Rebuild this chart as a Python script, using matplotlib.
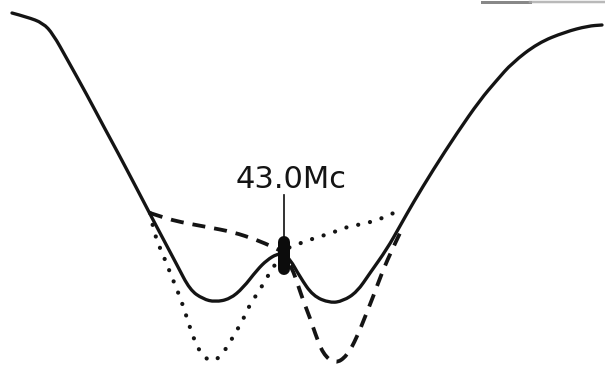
import matplotlib
matplotlib.use("Agg")
import matplotlib.pyplot as plt
from matplotlib.path import Path
from matplotlib.patches import PathPatch

# Response curves (horizontal position, vertical deflection; deflection grows downward)
solid_x = [12, 27, 43, 53, 67, 87, 105, 117, 137, 150, 160, 177, 190, 203, 215, 230,
           243, 257, 267, 277, 283, 290, 300, 313, 330, 343, 357, 370, 387, 400, 413,
           433, 457, 480, 497, 512, 538, 565, 588, 602]
solid_y = [13, 17, 23, 34, 59, 95, 129, 151, 189, 214, 233, 265, 290, 299, 302, 299,
           288, 270, 260, 254, 254, 259, 277, 296, 303, 301, 292, 273, 249, 226, 203,
           170, 133, 100, 80, 63, 43, 32, 26, 25]

dashed_x = [150, 165, 180, 207, 233, 257, 273, 283, 292, 298, 303, 310, 315, 323,
            335, 347, 357, 365, 373, 383, 392, 400]
dashed_y = [213, 218, 222, 227, 232, 240, 247, 252, 268, 285, 300, 318, 333, 354,
            364, 356, 337, 317, 297, 270, 250, 233]

dotted_x = [150, 155, 162, 171, 182, 189, 197, 205, 212, 218, 228, 235, 242, 248,
            255, 264, 270, 277, 283, 298, 312, 325, 337, 347, 357, 367, 377, 390, 403]
dotted_y = [213, 237, 252, 275, 302, 325, 347, 358, 361, 359, 346, 333, 322, 308,
            297, 283, 272, 262, 250, 244, 239, 235, 231, 227, 225, 223, 220, 215, 208]

# Centre-frequency marker
marker_label = "43.0Mc"
marker_x = 283.5
marker_pip = [242, 269]
pointer_y = [195, 242]
label_y = 188

PX = 0.72  # points per pixel at 100 dpi
INK = "#141414"


def smooth_path(xs, ys):
    """Quadratic-Bezier path through the midpoints, using each reading as control."""
    pts = list(zip(xs, ys))
    verts = [pts[0]]
    codes = [Path.MOVETO]
    for i in range(1, len(pts) - 1):
        mid = ((pts[i][0] + pts[i + 1][0]) / 2, (pts[i][1] + pts[i + 1][1]) / 2)
        verts += [pts[i], mid]
        codes += [Path.CURVE3, Path.CURVE3]
    verts.append(pts[-1])
    codes.append(Path.LINETO)
    return Path(verts, codes)


fig = plt.figure(figsize=(6.05, 3.66), dpi=100)
ax = fig.add_axes([0, 0, 1, 1])
ax.set_xlim(0, 605)
ax.set_ylim(366, 0)
ax.axis("off")

lw = 3.3 * PX
ax.add_patch(PathPatch(smooth_path(solid_x, solid_y), fill=False, edgecolor=INK,
                       lw=lw, capstyle="round", joinstyle="round"))
dash_lw = 3.8 * PX
ax.add_patch(PathPatch(smooth_path(dashed_x, dashed_y), fill=False, edgecolor=INK,
                       lw=dash_lw, capstyle="butt", joinstyle="round",
                       linestyle=(0, (13 * PX / dash_lw, 9 * PX / dash_lw))))
dot_lw = 4.2 * PX
ax.add_patch(PathPatch(smooth_path(dotted_x, dotted_y), fill=False, edgecolor=INK,
                       lw=dot_lw, capstyle="round",
                       linestyle=(0, (0.02, 12 * PX / dot_lw))))

# marker pip and pointer
ax.plot([marker_x, marker_x], marker_pip, color="#0c0c0c", lw=12 * PX,
        solid_capstyle="round", zorder=3)
ax.plot([marker_x + 0.8, marker_x + 0.8], pointer_y, color=INK, lw=1.7 * PX)
ax.text(291.5, label_y, marker_label, ha="center", va="baseline",
        fontsize=22, family="DejaVu Sans", color=INK)

# faint rule along the top edge
ax.plot([482, 530], [1.5, 1.5], color="#6a6a6a", lw=3 * PX, alpha=0.8)
ax.plot([530, 605], [2, 2], color="#a8a8a8", lw=2.5 * PX, alpha=0.8)

fig.savefig("out.png", dpi=100, facecolor="white")
